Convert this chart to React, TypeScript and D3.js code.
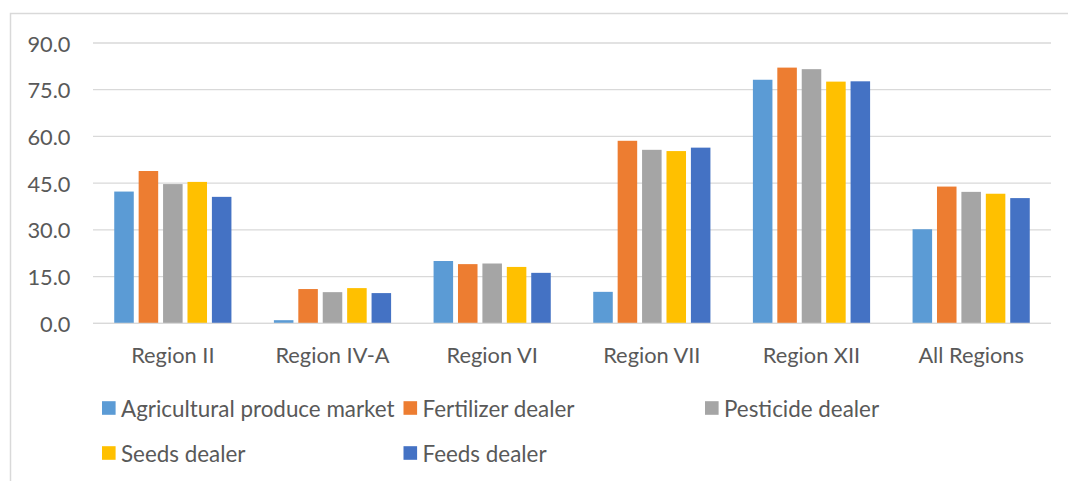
import React, { FC, useMemo } from 'react'
import * as d3 from 'd3'

const regions = ['Region II', 'Region IV-A', 'Region VI', 'Region VII', 'Region XII', 'All Regions']
const seriesNames = ['Agricultural produce market', 'Fertilizer dealer', 'Pesticide dealer', 'Seeds dealer', 'Feeds dealer']
const seriesColors = ['#5B9BD5', '#ED7D31', '#A5A5A5', '#FFC000', '#4472C4']

const produceMarket = [42.3, 1.0, 20.0, 10.1, 78.2, 30.2]
const fertilizerDealer = [48.9, 11.0, 19.0, 58.6, 82.1, 43.9]
const pesticideDealer = [44.7, 10.0, 19.2, 55.7, 81.6, 42.2]
const seedsDealer = [45.4, 11.3, 18.1, 55.3, 77.6, 41.6]
const feedsDealer = [40.6, 9.7, 16.2, 56.4, 77.7, 40.2]

const yTicks = [0, 15, 30, 45, 60, 75, 90]

const W = 1068
const H = 481
const textColor = '#595959'
const font = 'Lato, Carlito, sans-serif'

const App: FC = () => {
	const series = [produceMarket, fertilizerDealer, pesticideDealer, seedsDealer, feedsDealer]

	const yScale = useMemo(() => {
		return d3.scaleLinear().domain([0, 90]).range([323.3, 43])
	}, [])

	const x0 = useMemo(() => {
		return d3
			.scaleBand()
			.domain(regions)
			.range([93, 1051])
			.paddingInner(0.266)
			.paddingOuter(0.133)
	}, [])

	const x1 = useMemo(() => {
		return d3
			.scaleBand()
			.domain(seriesNames)
			.range([0, x0.bandwidth()])
			.paddingInner(0.2)
			.paddingOuter(0)
	}, [x0])

	const fmt = d3.format('.1f')

	return (
		<div style={{ position: 'absolute', left: 0, top: 0 }}>
			<svg width={W} height={H} style={{ display: 'block', background: '#fff' }}>
				{/* 外框 */}
				<rect x={10.5} y={13.5} width={W + 20} height={H + 20} fill="#fff" stroke="#d9d9d9" strokeWidth={1.5} />

				{/* grid + y labels */}
				<g>
					{yTicks.map((t) => (
						<g key={t}>
							<line x1={93} x2={1051} y1={yScale(t)} y2={yScale(t)} stroke="#d9d9d9" strokeWidth={1.3} />
							<text
								x={70.5}
								y={yScale(t)}
								textAnchor="end"
								dominantBaseline="central"
								fontFamily={font}
								fontSize={21.8}
								fill={textColor}
							>
								{fmt(t)}
							</text>
						</g>
					))}
				</g>

				{/* bars */}
				<g>
					{regions.map((r, i) => (
						<g key={r} transform={`translate(${x0(r)},0)`}>
							{series.map((vals, s) => (
								<rect
									key={s}
									x={x1(seriesNames[s])}
									y={yScale(vals[i])}
									width={x1.bandwidth()}
									height={yScale(0) - yScale(vals[i])}
									fill={seriesColors[s]}
								/>
							))}
						</g>
					))}
				</g>

				{/* baseline */}
				<line x1={93} x2={1051} y1={yScale(0)} y2={yScale(0)} stroke="#d9d9d9" strokeWidth={1.3} />

				{/* x labels */}
				<g>
					{regions.map((r) => (
						<text
							key={r}
							x={(x0(r) as number) + x0.bandwidth() / 2}
							y={354}
							textAnchor="middle"
							dominantBaseline="central"
							fontFamily={font}
							fontSize={21.8}
							fill={textColor}
						>
							{r}
						</text>
					))}
				</g>

				{/* legend */}
				<g>
					{seriesNames.map((name, s) => {
						const col = s % 3
						const row = Math.floor(s / 3)
						const lx = 102 + col * 301.5
						const ly = 408 + row * 45
						return (
							<g key={name} transform={`translate(${lx},${ly})`}>
								<rect x={0} y={-6.8} width={13.6} height={13.6} fill={seriesColors[s]} />
								<text
									x={19}
									y={0}
									dominantBaseline="central"
									fontFamily={font}
									fontSize={22.4}
									fill={textColor}
								>
									{name}
								</text>
							</g>
						)
					})}
				</g>
			</svg>
		</div>
	)
}

export default App
